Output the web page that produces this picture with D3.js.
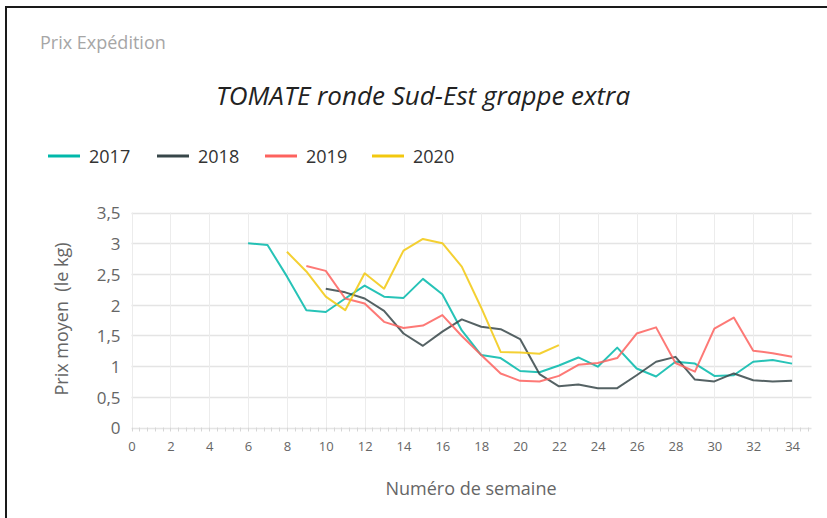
<!DOCTYPE html>
<html><head><meta charset="utf-8">
<script src="https://cdn.jsdelivr.net/npm/d3@7"></script>
<style>body{margin:0;background:#fff}svg{display:block}</style>
</head><body>
<svg id="c" width="827" height="518"></svg>
<script>
const years = ["2017", "2018", "2019", "2020"];
const colors = ["#01B8AA", "#374649", "#FD625E", "#F2C80F"];
const startWeeks = [6, 10, 9, 8];
const values2017 = [3.00, 2.97, 2.46, 1.91, 1.88, 2.10, 2.31, 2.13, 2.11, 2.42, 2.17, 1.58, 1.18, 1.13, 0.92, 0.90, 1.01, 1.14, 0.99, 1.30, 0.96, 0.83, 1.07, 1.04, 0.84, 0.85, 1.07, 1.10, 1.04];
const values2018 = [2.26, 2.20, 2.10, 1.90, 1.53, 1.33, 1.56, 1.76, 1.64, 1.60, 1.44, 0.87, 0.67, 0.70, 0.64, 0.64, 0.85, 1.07, 1.15, 0.78, 0.75, 0.88, 0.77, 0.75, 0.76];
const values2019 = [2.63, 2.55, 2.10, 2.02, 1.72, 1.62, 1.66, 1.83, 1.49, 1.18, 0.88, 0.76, 0.75, 0.84, 1.02, 1.05, 1.13, 1.53, 1.63, 1.05, 0.91, 1.61, 1.79, 1.25, 1.21, 1.15];
const values2020 = [2.86, 2.54, 2.13, 1.91, 2.51, 2.26, 2.88, 3.07, 3.00, 2.62, 1.95, 1.23, 1.22, 1.20, 1.34];
const xTicks = [0, 2, 4, 6, 8, 10, 12, 14, 16, 18, 20, 22, 24, 26, 28, 30, 32, 34];
const yTicks = [0, 0.5, 1, 1.5, 2, 2.5, 3, 3.5];
const allValues = [values2017, values2018, values2019, values2020];

const FONT = "'Segoe UI', 'Open Sans', sans-serif";
const svg = d3.select("#c");
svg.append("rect").attr("width", 827).attr("height", 518).attr("fill", "#fff");

// frame
svg.append("path").attr("d", "M6,518 V7 H827").attr("fill", "none").attr("stroke", "#1a1a1a").attr("stroke-width", 2);

const x = d3.scaleLinear().domain([0, 35]).range([131.5, 811.5]);
const y = d3.scaleLinear().domain([0, 3.5]).range([427.5, 212.5]);

// grid
const g = svg.append("g");
g.selectAll(".hg").data(yTicks).join("line")
  .attr("x1", x(0)).attr("x2", x(35)).attr("y1", d => Math.round(y(d)) + 0.5).attr("y2", d => Math.round(y(d)) + 0.5)
  .attr("stroke", "#e4e4e4").attr("stroke-width", 1.5);
g.selectAll(".vg").data(xTicks).join("line")
  .attr("x1", d => Math.round(x(d)) + 0.5).attr("x2", d => Math.round(x(d)) + 0.5).attr("y1", y(3.5)).attr("y2", y(0))
  .attr("stroke", "#ececec").attr("stroke-width", 1);

// minor ticks on x baseline
const minor = d3.range(0, 35.01, 0.4);
g.selectAll(".mt").data(minor).join("line")
  .attr("x1", d => Math.round(x(d)) + 0.5).attr("x2", d => Math.round(x(d)) + 0.5)
  .attr("y1", y(0)).attr("y2", y(0) + 4).attr("stroke", "#d6d6d6");

// axes labels via d3 axes
const fmt = d => d3.format("~g")(d).replace(".", ",");
const yAxis = svg.append("g").attr("transform", `translate(${x(0) - 11},1)`)
  .call(d3.axisLeft(y).tickValues(yTicks).tickFormat(fmt).tickSize(0).tickPadding(0));
yAxis.select(".domain").remove();
yAxis.selectAll("text").attr("font-family", FONT).attr("font-size", 17).attr("fill", "#666");

const xAxis = svg.append("g").attr("transform", `translate(0,${y(0) + 14})`)
  .call(d3.axisBottom(x).tickValues(xTicks).tickFormat(d3.format("d")).tickSize(0).tickPadding(0));
xAxis.select(".domain").remove();
xAxis.selectAll("text").attr("font-family", FONT).attr("font-size", 13).attr("fill", "#666");

// lines
const line = d3.line().x(d => x(d.w)).y(d => y(d.v));
years.forEach((yr, i) => {
  const pts = allValues[i].map((v, k) => ({ w: startWeeks[i] + k, v }));
  svg.append("path").datum(pts).attr("d", line).attr("fill", "none")
    .attr("stroke", colors[i]).attr("stroke-width", 2).attr("stroke-linejoin", "round").attr("opacity", 0.85);
});

// texts
svg.append("text").attr("x", 40).attr("y", 49).text("Prix Expédition")
  .attr("font-family", FONT).attr("font-size", 18).attr("fill", "#a6a6a6");
svg.append("text").attr("x", 423).attr("y", 105).attr("text-anchor", "middle").text("TOMATE ronde Sud-Est grappe extra")
  .attr("font-family", FONT).attr("font-size", 26).attr("font-style", "italic").attr("fill", "#222");

const legX = [48, 157, 265, 372];
years.forEach((yr, i) => {
  svg.append("line").attr("x1", legX[i]).attr("x2", legX[i] + 32).attr("y1", 156).attr("y2", 156)
    .attr("stroke", colors[i]).attr("stroke-width", 3);
  svg.append("text").attr("x", legX[i] + 41).attr("y", 163).text(yr)
    .attr("font-family", FONT).attr("font-size", 18).attr("fill", "#333");
});

svg.append("text").attr("transform", "translate(68,319) rotate(-90)").attr("text-anchor", "middle")
  .style("white-space", "pre").text("Prix moyen  (le kg)")
  .attr("font-family", FONT).attr("font-size", 18).attr("fill", "#666");
svg.append("text").attr("x", 471).attr("y", 495).attr("text-anchor", "middle").text("Numéro de semaine")
  .attr("font-family", FONT).attr("font-size", 18).attr("fill", "#666");
</script>
</body></html>
